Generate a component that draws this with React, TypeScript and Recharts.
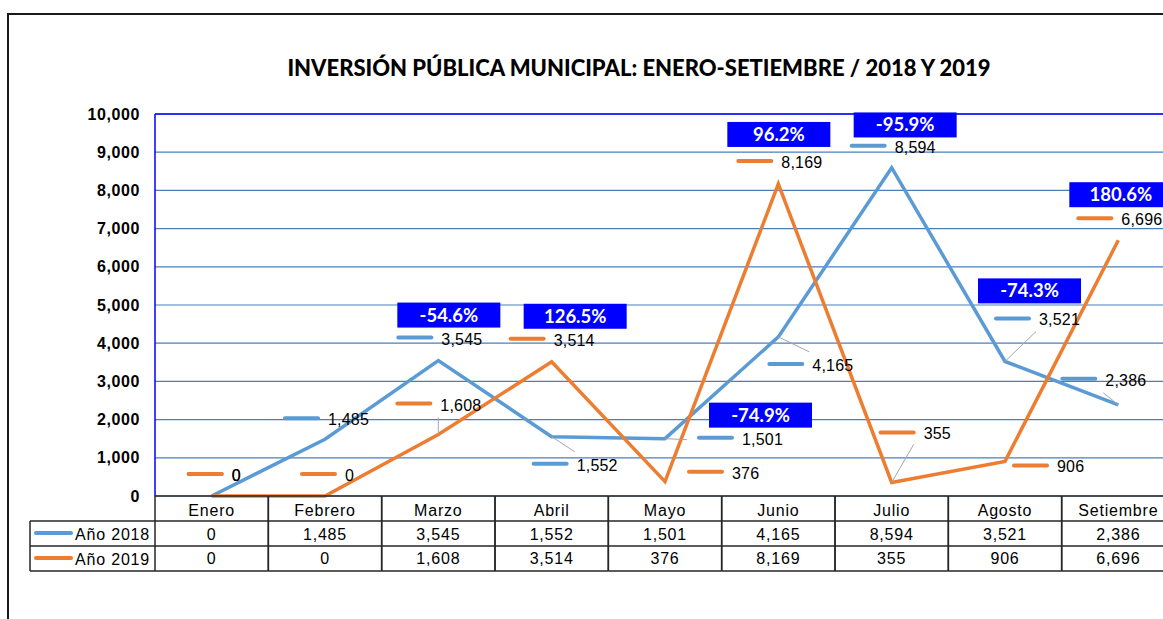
import React from 'react';
import { LineChart, Line, XAxis, YAxis, CartesianGrid, ReferenceLine } from 'recharts';

// ---------- DATA ----------
const months = ['Enero', 'Febrero', 'Marzo', 'Abril', 'Mayo', 'Junio', 'Julio', 'Agosto', 'Setiembre'];
const values2018 = [0, 1485, 3545, 1552, 1501, 4165, 8594, 3521, 2386];
const values2019 = [0, 0, 1608, 3514, 376, 8169, 355, 906, 6696];
const pctLabels = ['', '', '-54.6%', '126.5%', '-74.9%', '96.2%', '-95.9%', '-74.3%', '180.6%'];
const seriesNames = ['Año 2018', 'Año 2019'];
const yTicks = [0, 1000, 2000, 3000, 4000, 5000, 6000, 7000, 8000, 9000, 10000];
const title = 'INVERSIÓN PÚBLICA MUNICIPAL: ENERO-SETIEMBRE / 2018 Y 2019';

// ---------- LAYOUT / STYLE ----------
const COLORS = ['#5B9BD5', '#ED7D31'];
const W = 1200;
const H = 640;
const PLOT_LEFT = 155;
const PLOT_TOP = 114;
const PLOT_BOTTOM = 496;
const PLOT_RIGHT = 1175;
const Y_AXIS_W = 60;
const X_AXIS_H = 80;
const COL_W = (PLOT_RIGHT - PLOT_LEFT) / months.length;
const ROW_H = 25;
const LEGEND_LEFT = 30;
const NUM_FONT = '"Liberation Sans", Arial, sans-serif';
const TITLE_FONT = 'Lato, "Open Sans", sans-serif';

// label key offsets (dx, dy) from the point
const labelOffsets2018: [number, number][] = [
  [-25, -22], [-42, -21], [-42, -23], [-20, 27], [32, -1], [-11, 27], [-42, -22], [-11, -43], [-58, -26],
];
const labelOffsets2019: [number, number][] = [
  [-25, -22], [-25, -22], [-43, -31], [-43, -23], [22, -10], [-42, -23], [-13, -50], [7, 4], [-42, -22],
];
const leaders2018: ([number, number] | null)[] = [null, null, null, [23, 15], [22, 1], [31, 15], null, [31, -30], [-15, -12]];
const leaders2019: ([number, number] | null)[] = [null, null, [0, -17], null, null, null, [22, -38], null, null];
// percentage box top-left offsets from the 2019 point
const pctBoxes: ([number, number] | null)[] = [
  null, null, [-41, -132], [-28, -58], [44, -79], [-51, -62], [-38, -370], [-27, -183], [-49, -58],
];
const BOX_W = 103;
const BOX_H = 25;

const fmt = (v: number) => v.toLocaleString('en-US');

const data = months.map((m, i) => ({ month: m, y2018: values2018[i], y2019: values2019[i] }));

function makeDot(series: number) {
  const offsets = series === 0 ? labelOffsets2018 : labelOffsets2019;
  const leaders = series === 0 ? leaders2018 : leaders2019;
  const color = COLORS[series];
  return (props: any) => {
    const { cx, cy, index, value } = props;
    if (cx == null || cy == null) return <g key={`d-${series}-${index}`} />;
    const off = offsets[index];
    const kx = cx + off[0];
    const ky = cy + off[1];
    const lead = leaders[index];
    const box = series === 1 ? pctBoxes[index] : null;
    const v = Array.isArray(value) ? value[1] : value;
    return (
      <g key={`d-${series}-${index}`}>
        {lead && (
          <line x1={cx} y1={cy} x2={cx + lead[0]} y2={cy + lead[1]} stroke="#A6A6A6" strokeWidth={1} />
        )}
        <line x1={kx + 2} y1={ky} x2={kx + 35} y2={ky} stroke={color} strokeWidth={4} strokeLinecap="round" />
        <text x={kx + 45} y={ky + 7} fontSize={16} fontFamily={NUM_FONT} fill="#000" letterSpacing={0.2}>
          {fmt(v)}
        </text>
        {box && (
          <g>
            <rect x={cx + box[0]} y={cy + box[1]} width={BOX_W} height={BOX_H} fill="#0000FF" />
            <text
              x={cx + box[0] + BOX_W / 2}
              y={cy + box[1] + 19}
              textAnchor="middle"
              fontSize={18.5}
              fontWeight="bold"
              fontFamily={TITLE_FONT}
              fill="#FFFFFF"
            >
              {pctLabels[index]}
            </text>
          </g>
        )}
      </g>
    );
  };
}

const TableTick = (props: any) => {
  const { x, y, payload } = props;
  const i = payload.index;
  const left = x - COL_W / 2;
  const right = x + COL_W / 2;
  const stroke = '#262626';
  const rows = [y, y + ROW_H, y + 2 * ROW_H, y + 3 * ROW_H];
  const txt = { fontSize: 16, fontFamily: NUM_FONT, fill: '#000', letterSpacing: 0.8 } as any;
  return (
    <g>
      {rows.map((r, k) => (
        <line key={k} x1={left} x2={right} y1={r} y2={r} stroke={stroke} strokeWidth={1.5} />
      ))}
      <line x1={left} x2={left} y1={y} y2={y + 3 * ROW_H} stroke={stroke} strokeWidth={1.5} />
      <line x1={right} x2={right} y1={y} y2={y + 3 * ROW_H} stroke={stroke} strokeWidth={1.5} />
      <text x={x} y={y + 20} textAnchor="middle" {...txt}>{payload.value}</text>
      <text x={x} y={y + 44} textAnchor="middle" {...txt}>{fmt(values2018[i])}</text>
      <text x={x} y={y + 68} textAnchor="middle" {...txt}>{fmt(values2019[i])}</text>
      {i === 0 && (
        <g>
          {[1, 2, 3].map((k) => (
            <line key={k} x1={LEGEND_LEFT} x2={left} y1={y + k * ROW_H} y2={y + k * ROW_H} stroke={stroke} strokeWidth={1.5} />
          ))}
          <line x1={LEGEND_LEFT} x2={LEGEND_LEFT} y1={y + ROW_H} y2={y + 3 * ROW_H} stroke={stroke} strokeWidth={1.5} />
          {seriesNames.map((n, k) => (
            <g key={n}>
              <line
                x1={LEGEND_LEFT + 6}
                x2={LEGEND_LEFT + 41}
                y1={y + ROW_H * (k + 1) + 12}
                y2={y + ROW_H * (k + 1) + 12}
                stroke={COLORS[k]}
                strokeWidth={4}
                strokeLinecap="round"
              />
              <text x={left - 5} y={y + ROW_H * (k + 1) + 19} textAnchor="end" {...txt}>{n}</text>
            </g>
          ))}
        </g>
      )}
    </g>
  );
};

export default function App() {
  return (
    <div
      style={{
        position: 'absolute',
        left: 0,
        top: 0,
        width: 1163,
        height: 619,
        overflow: 'hidden',
        background: '#fff',
      }}
    >
      <div
        style={{
          position: 'absolute',
          left: 7,
          top: 13,
          width: 1400,
          height: 800,
          border: '2px solid #1a1a1a',
          boxSizing: 'border-box',
        }}
      />
      <div
        style={{
          position: 'absolute',
          left: 0,
          top: 55,
          width: 1278,
          textAlign: 'center',
          fontFamily: TITLE_FONT,
          fontWeight: 900,
          fontSize: 22,
          lineHeight: '26px',
          color: '#000',
          whiteSpace: 'nowrap',
        }}
      >
        {title}
      </div>
      <div style={{ position: 'absolute', left: 0, top: 0 }}>
        <LineChart
          width={W}
          height={H}
          data={data}
          margin={{
            top: PLOT_TOP,
            left: PLOT_LEFT - Y_AXIS_W,
            right: W - PLOT_RIGHT,
            bottom: H - PLOT_BOTTOM - X_AXIS_H,
          }}
        >
          <CartesianGrid vertical={false} stroke="#4A7EBB" strokeWidth={1.2} />
          <XAxis
            dataKey="month"
            interval={0}
            height={X_AXIS_H}
            padding={{ left: COL_W / 2, right: COL_W / 2 }}
            axisLine={false}
            tickLine={false}
            tickSize={0}
            tickMargin={0}
            tick={<TableTick />}
          />
          <YAxis
            domain={[0, 10000]}
            ticks={yTicks}
            interval={0}
            width={Y_AXIS_W}
            tickFormatter={fmt}
            tickLine={false}
            tickSize={0}
            tickMargin={15}
            axisLine={{ stroke: '#0000FF', strokeWidth: 1.5 }}
            tick={{ fill: '#000', fontSize: 16, fontWeight: 'bold', fontFamily: NUM_FONT, letterSpacing: 0.6 }}
          />
          <ReferenceLine y={10000} stroke="#0000FF" strokeWidth={1.5} />
          <Line
            type="linear"
            dataKey="y2018"
            name={seriesNames[0]}
            stroke={COLORS[0]}
            strokeWidth={3.5}
            dot={makeDot(0)}
            activeDot={false}
            isAnimationActive={false}
          />
          <Line
            type="linear"
            dataKey="y2019"
            name={seriesNames[1]}
            stroke={COLORS[1]}
            strokeWidth={3.5}
            dot={makeDot(1)}
            activeDot={false}
            isAnimationActive={false}
          />
        </LineChart>
      </div>
    </div>
  );
}
